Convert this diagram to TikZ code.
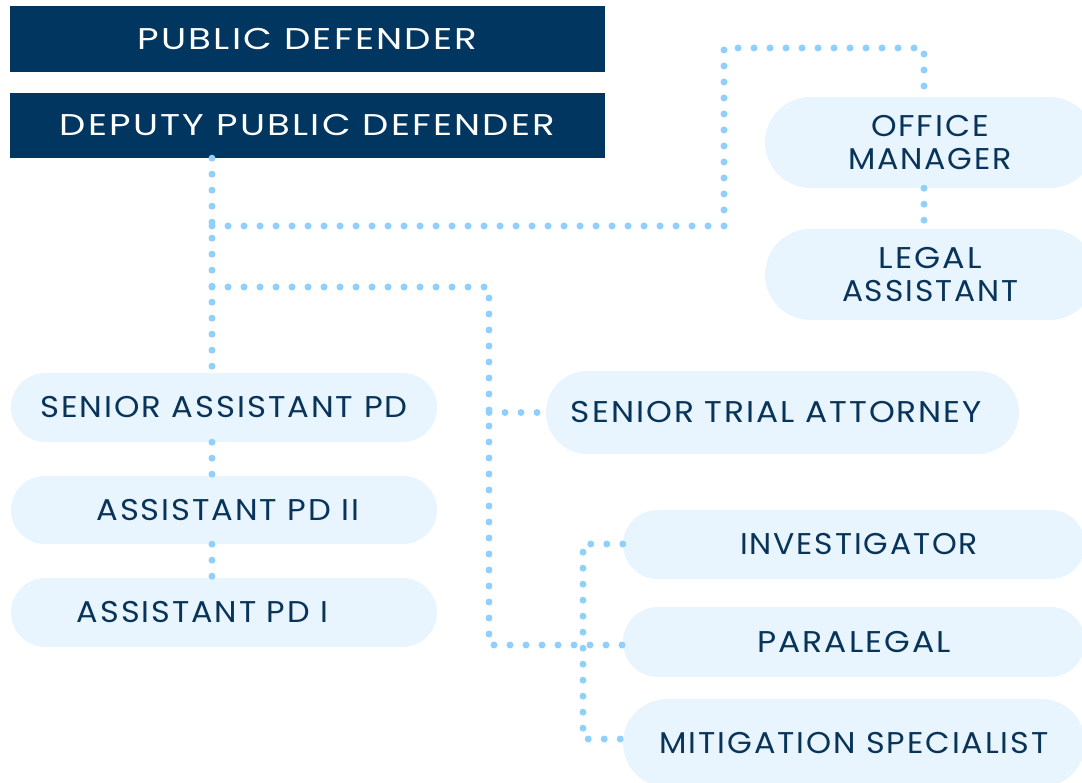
\documentclass[tikz,border=0pt]{standalone}
\usepackage{fontspec}
\usepackage{graphicx}
\setmainfont{Poppins}[LetterSpace=6]
\usetikzlibrary{shapes.misc,calc}
\definecolor{navy}{RGB}{0,54,96}
\definecolor{pillfill}{RGB}{232,244,254}
\definecolor{dotblue}{RGB}{143,208,255}
\definecolor{textnavy}{RGB}{8,52,90}
\newcommand{\fitw}[2]{\resizebox{#1pt}{\height}{#2}}
\begin{document}
\begin{tikzpicture}[x=1pt,y=-1pt,
  topbox/.style={rectangle,fill=navy,text=white,inner sep=0pt,font=\fontsize{30}{33}\selectfont},
  pill/.style={rounded rectangle,fill=pillfill,text=textnavy,inner sep=0pt,align=center,font=\fontsize{30}{33}\selectfont},
  dots/.style={draw=dotblue,line width=7pt,line cap=round,dash pattern=on 0pt off 16pt}]
\useasboundingbox (0,0) rectangle (1082,783);
\clip (0,0) rectangle (1082,783);
% boxes
\node[topbox,minimum width=595pt,minimum height=66pt] (pd) at (307.5,39) {\fitw{340}{PUBLIC DEFENDER}};
\node[topbox,minimum width=595pt,minimum height=65pt] (dpd) at (307.5,125.5) {\fitw{495}{DEPUTY PUBLIC DEFENDER}};
\node[pill,minimum width=330pt,minimum height=91pt] (om) at (930,142.5) {\fitw{118}{OFFICE}\\\fitw{164}{MANAGER}};
\node[pill,minimum width=330pt,minimum height=91pt] (la) at (930,274.5) {\fitw{103}{LEGAL}\\\fitw{176}{ASSISTANT}};
\node[pill,minimum width=426pt,minimum height=69pt] (sapd) at (224,407.5) {\fitw{367}{SENIOR ASSISTANT PD}};
\node[pill,minimum width=426pt,minimum height=68pt] (apdii) at (224,510) {\hspace*{8pt}\fitw{263}{ASSISTANT PD II}};
\node[pill,minimum width=426pt,minimum height=69pt] (apdi) at (224,612.5) {\fitw{251}{ASSISTANT PD I}\hspace*{43pt}};
\node[pill,minimum width=473pt,minimum height=83pt] (sta) at (782.5,412.5) {\fitw{411}{SENIOR TRIAL ATTORNEY}\hspace*{12pt}};
\node[pill,minimum width=462pt,minimum height=69pt] (inv) at (854,544.5) {\hspace*{10pt}\fitw{238}{INVESTIGATOR}};
\node[pill,minimum width=462pt,minimum height=70pt] (para) at (854,642) {\fitw{193}{PARALEGAL}};
\node[pill,minimum width=462pt,minimum height=88pt] (mit) at (854,743) {\fitw{389}{MITIGATION SPECIALIST}};
% helper coordinates
\coordinate (vx) at (212,0);
\coordinate (b1) at (212,226);
\coordinate (b2) at (212,287);
\coordinate (c1) at (724,48);
\coordinate (omx) at (924,0);
\coordinate (c2) at (489,287);
\coordinate (c3) at (489,645);
\coordinate (sx) at (583,544);
\coordinate (sy) at (583,739);
% connectors
\draw[dots] (dpd.south -| vx) -- (sapd.north -| vx);
\draw[dots] (b1) -- (b1 -| c1) -- (c1) -- (c1 -| omx) -- (om.north -| omx);
\draw[dots] (om.south -| omx) -- (la.north -| omx);
\draw[dots] (b2) -- (c2) -- (c3) -- (c3 -| para.west);
\draw[dots] (sta.west -| c2) -- (sta.west);
\draw[dots] (sx -| inv.west) -- (sx) -- (sy) -- (sy -| mit.west);
\draw[dots] (sapd.south -| vx) -- (apdii.north -| vx);
\draw[dots] (apdii.south -| vx) -- (apdi.north -| vx);
\end{tikzpicture}
\end{document}
